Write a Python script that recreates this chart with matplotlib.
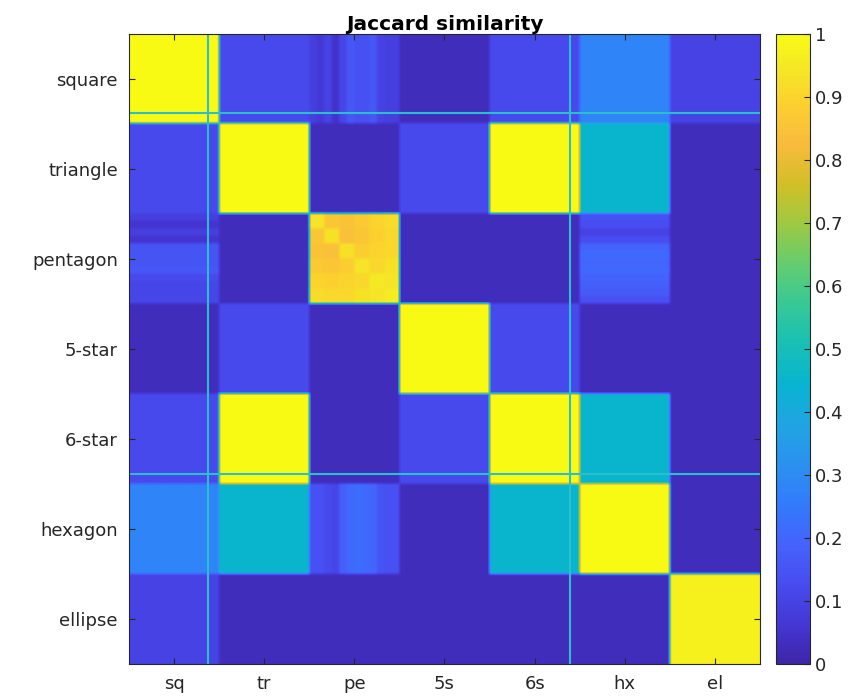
import matplotlib
matplotlib.use("Agg")
import matplotlib.pyplot as plt
import numpy as np
from matplotlib.colors import LinearSegmentedColormap

# class labels
row_labels = ['square', 'triangle', 'pentagon', '5-star', '6-star', 'hexagon', 'ellipse']
col_labels = ['sq', 'tr', 'pe', '5s', '6s', 'hx', 'el']

# mean Jaccard similarity per class pair (nan = per-sample stripes below)
block_vals = [
    [1.00, 0.12, np.nan, 0.03, 0.12, 0.28, 0.10],
    [0.12, 1.00, 0.03, 0.12, 1.00, 0.45, 0.03],
    [np.nan, 0.03, np.nan, 0.03, 0.03, np.nan, 0.03],
    [0.03, 0.12, 0.03, 1.00, 0.12, 0.03, 0.03],
    [0.12, 1.00, 0.03, 0.12, 1.00, 0.45, 0.03],
    [0.28, 0.45, np.nan, 0.03, 0.45, 1.00, 0.03],
    [0.10, 0.03, 0.03, 0.03, 0.03, 0.03, 0.97],
]

# pentagon samples vs other classes (12 pentagon samples)
pe_vs_sq = [0.09, 0.06, 0.09, 0.06, 0.15, 0.15, 0.15, 0.16, 0.12, 0.11, 0.11, 0.11]
sq_vs_pe = [0.09, 0.07, 0.10, 0.05, 0.11, 0.16, 0.14, 0.14, 0.16, 0.10, 0.09, 0.09]
pe_vs_hx = [0.14, 0.13, 0.10, 0.13, 0.19, 0.21, 0.20, 0.21, 0.19, 0.18, 0.17, 0.14]
hx_vs_pe = [0.14, 0.14, 0.12, 0.11, 0.18, 0.21, 0.22, 0.21, 0.20, 0.15, 0.14, 0.14]

# pentagon vs pentagon (coarse groups)
pe_vs_pe = [
    [0.94, 0.86, 0.85, 0.87, 0.90, 0.92],
    [0.86, 0.93, 0.84, 0.86, 0.89, 0.91],
    [0.85, 0.84, 0.93, 0.88, 0.90, 0.91],
    [0.87, 0.86, 0.88, 0.94, 0.91, 0.93],
    [0.90, 0.89, 0.90, 0.91, 0.95, 0.94],
    [0.92, 0.91, 0.91, 0.93, 0.94, 0.96],
]

# split positions marked with lines (in class units)
split_pos = [0.88, 4.89]

# old-style parula colormap
parula_rgb = [
    (0.2422, 0.1504, 0.6603), (0.2706, 0.2147, 0.8364), (0.2813, 0.3006, 0.9414),
    (0.2699, 0.3892, 0.9906), (0.1963, 0.4847, 0.9892), (0.1687, 0.5703, 0.9359),
    (0.1248, 0.6459, 0.8883), (0.0297, 0.7082, 0.8163), (0.0964, 0.7500, 0.7120),
    (0.2161, 0.7843, 0.5923), (0.3909, 0.8029, 0.4354), (0.6174, 0.7876, 0.2612),
    (0.8203, 0.7498, 0.1535), (0.9728, 0.7298, 0.2394), (0.9892, 0.8136, 0.1885),
    (0.9597, 0.9135, 0.1423), (0.9769, 0.9839, 0.0805),
]
parula_pos = [i / 63 for i in range(0, 61, 4)] + [1.0]
parula = LinearSegmentedColormap.from_list('parula', list(zip(parula_pos, parula_rgb)))

# build full sample-by-sample matrix
n = 24
M = np.kron(np.array(block_vals), np.ones((n, n)))
pe = slice(2 * n, 3 * n)
M[pe, 0:n] = np.repeat(pe_vs_sq, 2)[:, None]
M[0:n, pe] = np.repeat(sq_vs_pe, 2)[None, :]
M[pe, 5 * n:6 * n] = np.repeat(pe_vs_hx, 2)[:, None]
M[5 * n:6 * n, pe] = np.repeat(hx_vs_pe, 2)[None, :]
M[pe, pe] = np.kron(np.array(pe_vs_pe), np.ones((4, 4)))

fig = plt.figure(figsize=(8.6, 6.99), dpi=100)
ax = fig.add_axes([0.15, 0.0501, 0.7337, 0.9013])
im = ax.imshow(M, cmap=parula, vmin=0, vmax=1, extent=(0, 7, 7, 0),
               interpolation='bilinear', aspect='auto')

line_color = '#29bfcc'
for p in split_pos:
    ax.axvline(p, color=line_color, lw=1.5)
    ax.axhline(p, color=line_color, lw=1.5)

ax_color = '#262626'
centers = np.arange(7) + 0.5
ax.set_xticks(centers)
ax.set_xticklabels(col_labels)
ax.set_yticks(centers)
ax.set_yticklabels(row_labels)
ax.tick_params(direction='in', length=4, top=True, right=True, colors=ax_color,
               labelsize=13, pad=8)
for s in ax.spines.values():
    s.set_color(ax_color)
    s.set_linewidth(0.8)
ax.set_title('Jaccard similarity', fontsize=14.5, fontweight='bold', pad=3)

cax = fig.add_axes([0.9023, 0.0501, 0.0395, 0.9013])
cb = fig.colorbar(im, cax=cax)
cb.set_ticks(np.arange(0, 1.01, 0.1))
cb.set_ticklabels(['0', '0.1', '0.2', '0.3', '0.4', '0.5', '0.6', '0.7', '0.8', '0.9', '1'])
cax.tick_params(direction='in', length=4, colors=ax_color, labelsize=13)
cb.outline.set_edgecolor(ax_color)
cb.outline.set_linewidth(0.8)

fig.savefig('out.png', dpi=100)
